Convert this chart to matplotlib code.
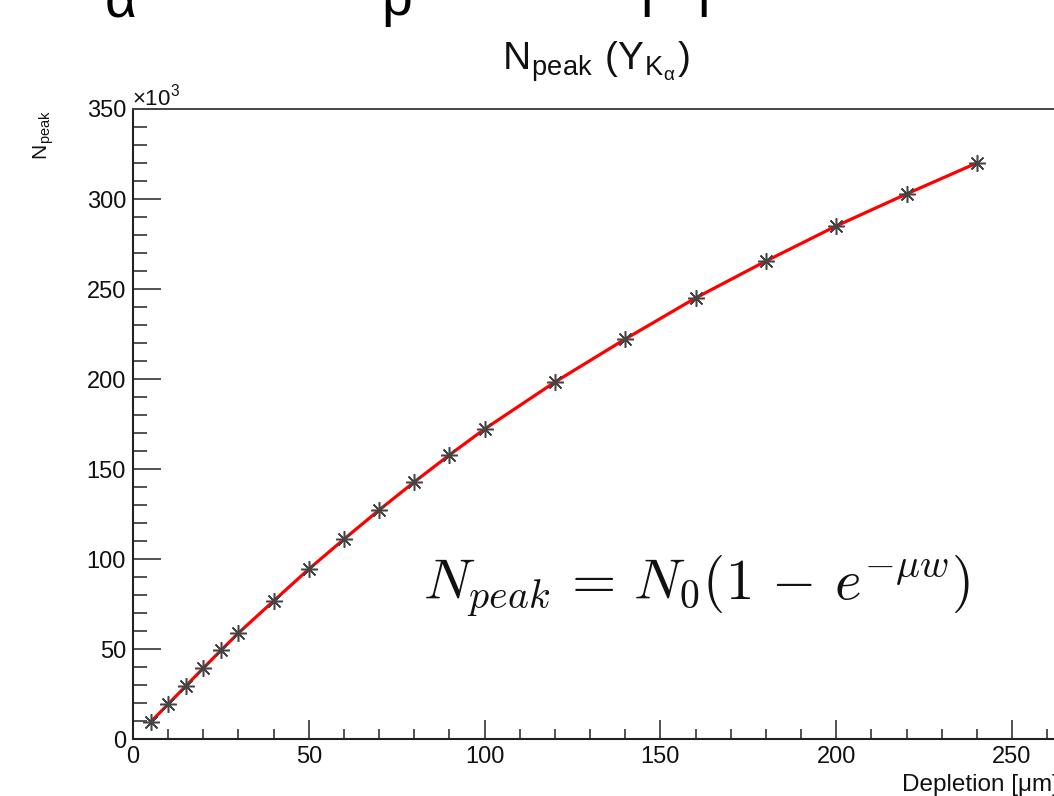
import matplotlib
matplotlib.use("Agg")
import matplotlib.pyplot as plt
from matplotlib.ticker import MultipleLocator, FuncFormatter

# ---- data ----
depletion_um = [5, 10, 15, 20, 25, 30, 40, 50, 60, 70, 80, 90, 100,
                120, 140, 160, 180, 200, 220, 240]
n_peak = [9400, 19400, 29400, 39400, 49200, 58900, 76700, 94400, 111000,
          127200, 142800, 157800, 172200, 198300, 222200, 245000, 265500,
          285000, 302800, 320000]
x_ticks = [0, 50, 100, 150, 200, 250]
y_ticks = [0, 50000, 100000, 150000, 200000, 250000, 300000, 350000]

W, H = 1054, 796
fig = plt.figure(figsize=(W / 100, H / 100), dpi=100)
plt.rcParams['mathtext.fontset'] = 'cm'
sans = 'Liberation Sans'

def px(x, y):
    return x / W, 1 - y / H

# axes placement (right edge runs off the figure, as in the cropped reference)
x0, y_bot, y_top = 133, 739, 109
ppu = 3.516
xmax = 285
ax = fig.add_axes([x0 / W, 1 - y_bot / H, xmax * ppu / W, (y_bot - y_top) / H])
ax.set_xlim(0, xmax)
ax.set_ylim(0, 350000)

ax.plot(depletion_um, n_peak, color='red', lw=2.3, zorder=2)
ax.plot(depletion_um, n_peak, linestyle='none', marker=(8, 2, 0),
        markersize=12, markeredgewidth=1.1, color='#444444', zorder=3)

ax.set_xticks(x_ticks)
ax.set_yticks(y_ticks)
ax.xaxis.set_minor_locator(MultipleLocator(10))
ax.yaxis.set_minor_locator(MultipleLocator(10000))
ax.yaxis.set_major_formatter(FuncFormatter(lambda v, p: f"{v/1000:.0f}"))
ax.tick_params(axis='both', which='both', direction='in', width=1.1,
               color='#222222', labelsize=17, labelcolor='#111111')
ax.tick_params(axis='y', which='major', length=20, pad=5)
ax.tick_params(axis='y', which='minor', length=10)
ax.tick_params(axis='x', which='major', length=14, pad=5)
ax.tick_params(axis='x', which='minor', length=7)
for lab in ax.get_xticklabels() + ax.get_yticklabels():
    lab.set_fontfamily(sans)
for s in ['left', 'bottom']:
    ax.spines[s].set_linewidth(1.5)
    ax.spines[s].set_color('#222222')
ax.spines['top'].set_linewidth(1.4)
ax.spines['top'].set_color('#444444')
ax.spines['right'].set_visible(False)

# exponent marker
fig.text(*px(132, 106), '×10$^{\\mathregular{3}}$', fontsize=16, family=sans,
         ha='left', va='baseline', color='#111111')

# title
fig.text(*px(596, 70), r'N$_{\mathregular{peak}}$ (Y$_{\mathregular{K_{\alpha}}}$)',
         fontsize=28, family=sans, ha='center', va='baseline', color='#111111')

# y label
fig.text(*px(44, 110), r'N$_{\mathregular{peak}}$', fontsize=15, family=sans,
         rotation=90, ha='center', va='top', color='#111111')

# x label
fig.text(*px(1059, 791), 'Depletion [μm]', fontsize=17.5, family=sans,
         ha='right', va='baseline', color='#111111')

# formula
fig.text(*px(423, 599), r'$N_{peak}\,=\,N_0(1\,-\,e^{-\mu w})$', fontsize=41,
         ha='left', va='baseline', color='#111111')

# partially cropped slide title at the very top
fig.text(*px(105, 17), 'α', fontsize=40, family=sans, ha='left', va='baseline')
fig.text(*px(381, 15), 'p', fontsize=40, family=sans, ha='left', va='baseline')
fig.text(*px(640, 17), 'l', fontsize=40, family=sans, ha='left', va='baseline')
fig.text(*px(697, 17), 'l', fontsize=40, family=sans, ha='left', va='baseline')

fig.savefig('out.png', dpi=100, facecolor='white')
